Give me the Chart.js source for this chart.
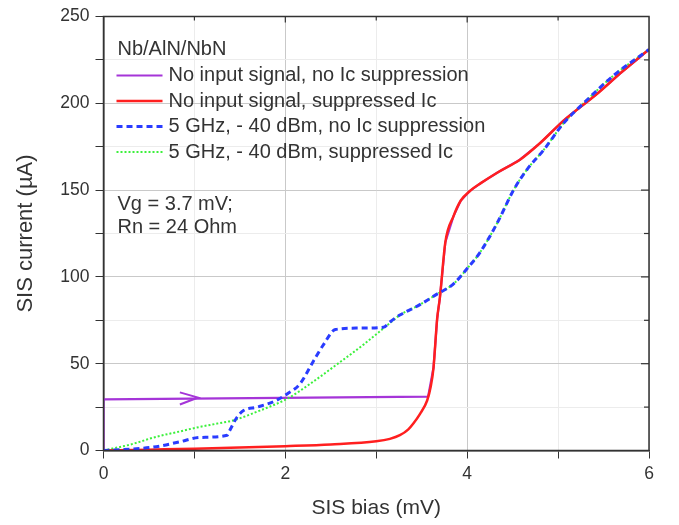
<!DOCTYPE html>
<html>
<head>
<meta charset="utf-8">
<script src="https://cdn.jsdelivr.net/npm/chart.js@4"></script>
<style>
  html, body { margin: 0; padding: 0; background: #fff; }
  canvas { display: block; }
</style>
</head>
<body>
<canvas id="chart" width="679" height="525"></canvas>
<script>
// SIS bias (mV) vs SIS current (uA)
const purpleX = [0, 0, 3.57, 3.63, 3.67, 3.70, 3.76, 3.85, 3.93, 4.03, 4.15, 4.33, 4.58, 4.80, 5.06, 5.43, 5.70, 6.0];
const purpleY = [0, 29.4, 31, 47.8, 76, 88, 120, 135, 144, 149.5, 154, 160, 167.5, 177, 190, 205.5, 218, 231];

const redX = [0, 0.5, 1, 1.5, 2, 2.5, 3, 3.15, 3.26, 3.35, 3.41, 3.48, 3.56, 3.60, 3.63, 3.67, 3.70, 3.76, 3.85, 3.93, 4.03, 4.15, 4.33, 4.58, 4.80, 5.06, 5.43, 5.70, 6.0];
const redY = [0, 0.5, 1, 1.7, 2.5, 3.5, 5.3, 6.7, 8.8, 12, 15.7, 21, 28.8, 37, 47.8, 76, 88, 120, 135, 144, 149.5, 154, 160, 167.5, 177, 190, 205.5, 218, 231];

const blueX = [0, 0.3, 0.58, 0.84, 1.06, 1.36, 1.39, 1.47, 1.54, 1.69, 1.9, 2.02, 2.16, 2.31, 2.42, 2.55, 2.8, 3.08, 3.15, 3.26, 3.48, 3.65, 3.85, 4.0, 4.14, 4.33, 4.51, 4.66, 4.84, 5.06, 5.28, 5.61, 6.0];
const blueY = [0, 0.8, 2.2, 5, 7.5, 8.8, 11.7, 19.3, 23, 25, 28.8, 32.6, 38.3, 51.6, 61, 69.7, 70.5, 71, 74, 78, 84, 89.5, 96, 104.8, 114, 131, 150, 162, 173, 188.5, 200, 216, 231];

const greenX = [0, 0.3, 0.58, 0.8, 1.06, 1.25, 1.43, 1.72, 2.02, 2.27, 2.57, 2.86, 3.15, 3.26, 3.48, 3.65, 3.85, 4.0, 4.14, 4.33, 4.51, 4.66, 4.84, 5.06, 5.28, 5.61, 6.0];
const greenY = [0, 3.5, 7.9, 10.5, 13.6, 15.5, 17.4, 23, 29.8, 38.3, 49.7, 61, 73.4, 78, 84, 89.5, 96, 104.8, 114, 131, 150, 162, 173, 188.5, 200, 216, 231];

// direction arrow on the purple trace
const arrowX = [0.84, 1.04, 0.84];
const arrowY = [33.5, 30.5, 26.5];

const seriesLabels = [
  "No input signal, no Ic suppression",
  "No input signal, suppressed Ic",
  "5 GHz, - 40 dBm, no Ic suppression",
  "5 GHz, - 40 dBm, suppressed Ic"
];
const legendTitle = "Nb/AlN/NbN";
const noteLines = ["Vg = 3.7 mV;", "Rn = 24 Ohm"];

const xTicks = [0, 2, 4, 6];
const yTicks = [0, 50, 100, 150, 200, 250];

const FONT = "'Liberation Sans', Arial, sans-serif";
const INK = "#333333";

const pts = (xs, ys) => xs.map((x, i) => ({ x: x, y: ys[i] }));

// legend + notes inside the plot, and the box frame with inner ticks
const boxPlugin = {
  id: "box",
  afterDraw(chart) {
    const ctx = chart.ctx;
    const a = chart.chartArea;
    const sx = chart.scales.x, sy = chart.scales.y;
    ctx.save();
    ctx.strokeStyle = INK;
    ctx.lineWidth = 1.5;
    ctx.strokeRect(a.left, a.top, a.right - a.left, a.bottom - a.top);
    ctx.lineWidth = 1.2;
    for (let v = 1; v < 6; v++) {
      const px = sx.getPixelForValue(v);
      ctx.beginPath(); ctx.moveTo(px, a.top); ctx.lineTo(px, a.top + (v % 2 ? 4 : 6)); ctx.stroke();
    }
    for (let v = 25; v < 250; v += 25) {
      const py = sy.getPixelForValue(v);
      ctx.beginPath(); ctx.moveTo(a.right, py); ctx.lineTo(a.right - (v % 50 ? 5 : 8), py); ctx.stroke();
    }

    ctx.font = "20px " + FONT;
    ctx.fillStyle = INK;
    ctx.textBaseline = "middle";
    ctx.textAlign = "left";
    const lx = a.left + 13;
    ctx.fillText(legendTitle, lx + 1, a.top + 33);
    chart.data.datasets.forEach(ds => {
      if (ds.legendRow === undefined) return;
      const y = a.top + 59 + ds.legendRow * 25.5;
      ctx.save();
      ctx.strokeStyle = ds.borderColor;
      ctx.lineWidth = ds.borderWidth;
      ctx.setLineDash(ds.borderDash || []);
      ctx.beginPath(); ctx.moveTo(lx, y); ctx.lineTo(lx + 46, y); ctx.stroke();
      ctx.restore();
      ctx.fillText(ds.label, lx + 52, y);
    });
    noteLines.forEach((t, i) => ctx.fillText(t, lx + 1, a.top + 188 + i * 23));
    ctx.restore();
  }
};

new Chart(document.getElementById("chart"), {
  type: "line",
  plugins: [boxPlugin],
  data: {
    datasets: [
      { label: seriesLabels[2], legendRow: 2, data: pts(blueX, blueY), borderColor: "#2a3cff", borderWidth: 3, borderDash: [6, 4], cubicInterpolationMode: "monotone", order: 0 },
      { label: seriesLabels[1], legendRow: 1, data: pts(redX, redY), borderColor: "#ff1f1f", borderWidth: 2.5, cubicInterpolationMode: "monotone", order: 1 },
      { label: seriesLabels[3], legendRow: 3, data: pts(greenX, greenY), borderColor: "#3cf03c", borderWidth: 2, borderDash: [2, 2], cubicInterpolationMode: "monotone", order: 2 },
      { label: seriesLabels[0], legendRow: 0, data: pts(purpleX, purpleY), borderColor: "#a535d8", borderWidth: 2.2, tension: 0, order: 3 },
      { label: "arrow", data: pts(arrowX, arrowY), borderColor: "#a535d8", borderWidth: 2, tension: 0, order: 4 }
    ]
  },
  options: {
    responsive: false,
    animation: false,
    devicePixelRatio: 1,
    layout: { padding: { top: 12, right: 30, left: 0, bottom: 0 } },
    elements: { point: { radius: 0 }, line: { fill: false } },
    plugins: { legend: { display: false }, tooltip: { enabled: false } },
    scales: {
      x: {
        type: "linear", min: 0, max: 6,
        afterFit: s => { s.height = 74.5; },
        ticks: {
          stepSize: 1, color: INK, padding: 5,
          font: { family: FONT, size: 17.5 },
          callback: v => xTicks.includes(v) ? String(v) : ""
        },
        grid: {
          color: c => (c.tick && c.tick.value % 2 === 0) ? "#c9c9c9" : "#ececec",
          tickColor: INK, tickLength: 8, lineWidth: 1
        },
        border: { color: INK, width: 1.5 },
        title: { display: true, text: "SIS bias (mV)", color: INK, font: { family: FONT, size: 21 }, padding: { top: 0, bottom: 4 } }
      },
      y: {
        type: "linear", min: 0, max: 250,
        afterFit: s => { s.width = 103.5; },
        ticks: {
          stepSize: 25, color: INK, padding: 6,
          font: { family: FONT, size: 17.5 },
          callback: v => yTicks.includes(v) ? String(v) : ""
        },
        grid: {
          color: c => (c.tick && c.tick.value % 50 === 0) ? "#c9c9c9" : "#ececec",
          tickColor: INK, tickLength: 8, lineWidth: 1
        },
        border: { color: INK, width: 1.5 },
        title: { display: true, text: "SIS current (\u00b5A)", color: INK, font: { family: FONT, size: 22 }, padding: { top: 13, bottom: 0 } }
      }
    }
  }
});
</script>
</body>
</html>
